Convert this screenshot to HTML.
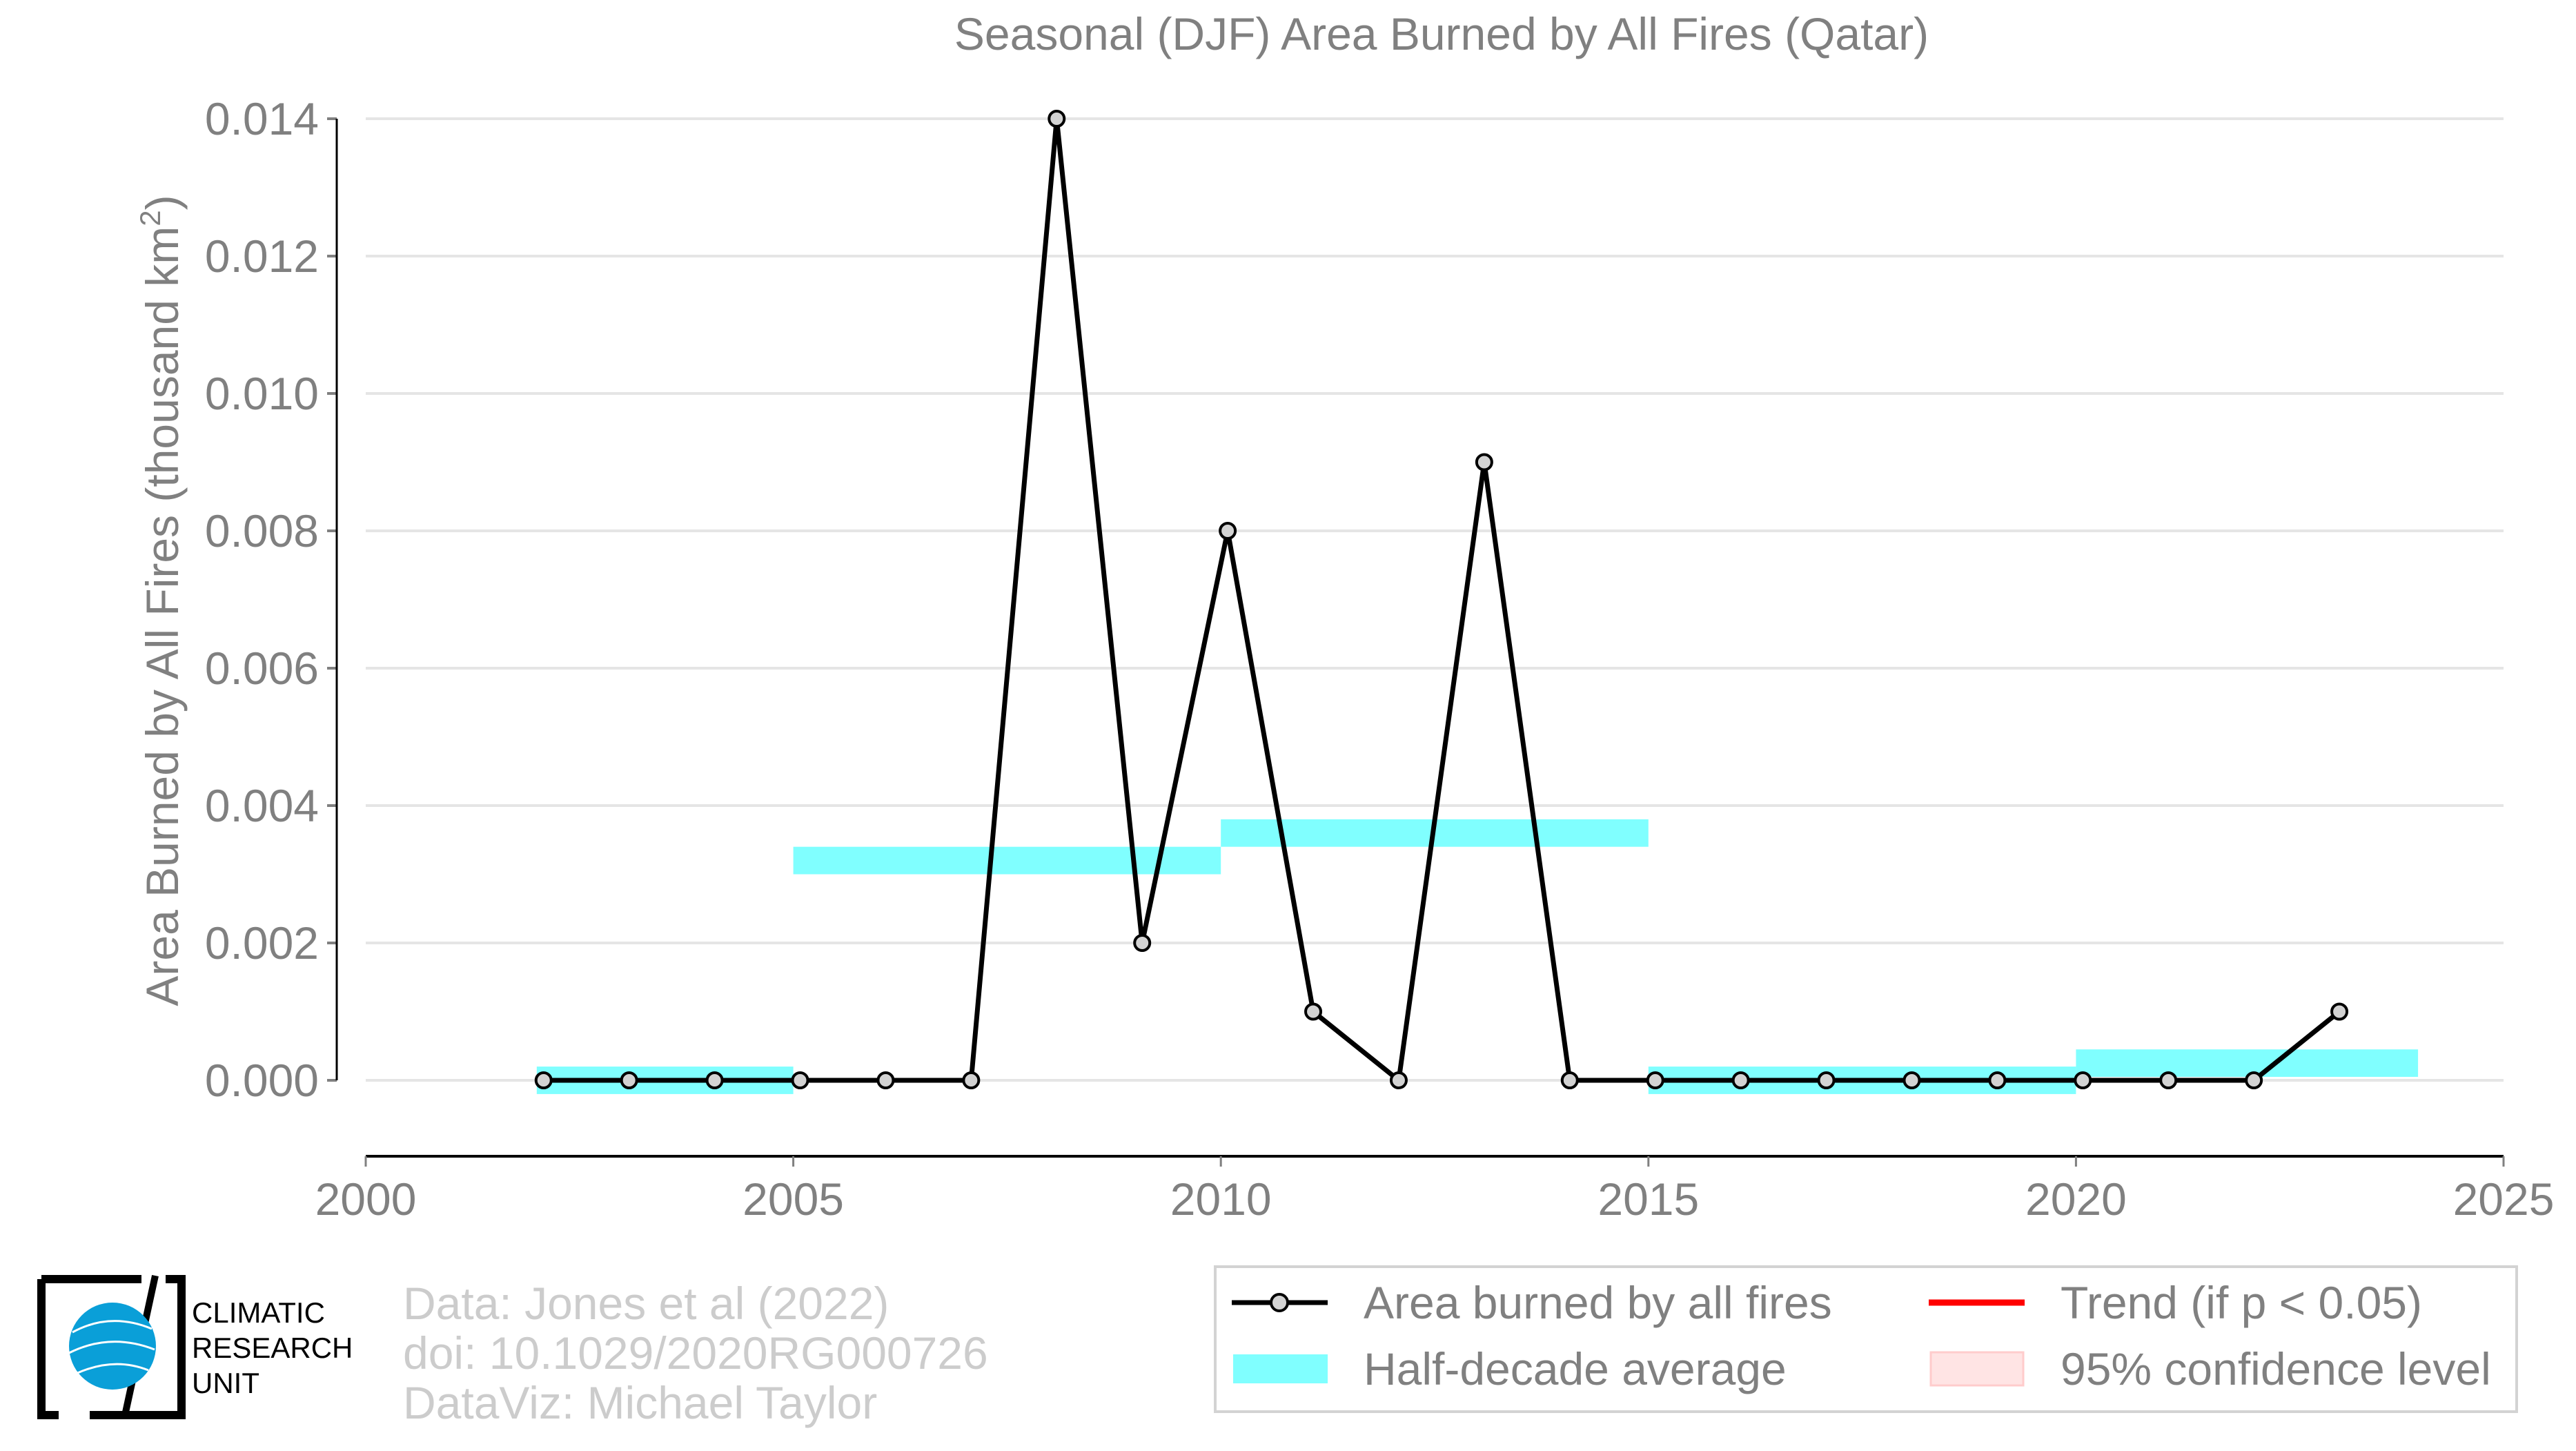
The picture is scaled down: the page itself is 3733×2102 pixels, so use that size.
<!DOCTYPE html>
<html><head><meta charset="utf-8"><style>
html,body{margin:0;padding:0;background:#fff;}
svg{display:block;font-family:"Liberation Sans",Arial,sans-serif;}
</style></head><body>
<svg id="chart" width="3733" height="2102" viewBox="0 0 3733 2102" xmlns="http://www.w3.org/2000/svg">
<text x="2089" y="72" text-anchor="middle" font-size="66" fill="#808080">Seasonal (DJF) Area Burned by All Fires (Qatar)</text>
<text transform="translate(258,870) rotate(-90)" text-anchor="middle" font-size="66" fill="#808080">Area Burned by All Fires (thousand km<tspan font-size="42" dy="-26">2</tspan><tspan dy="26">)</tspan></text>
<g id="grid"></g><g id="bars"></g><g id="series"></g><g id="axes"></g>
<g>
<path d="M60,1853 H205 M60,1853 V2050 H85 M130,2050 H263 V1853 H240" stroke="#000" stroke-width="12" fill="none"/>
<path d="M225,1848 L180,2055" stroke="#000" stroke-width="10"/>
<circle cx="163" cy="1950" r="63" fill="#0a9fd8"/>
<path d="M105,1930 Q160,1900 220,1925 M100,1960 Q160,1930 224,1955 M110,1990 Q165,1965 215,1985" stroke="#fff" stroke-width="3" fill="none"/>
<text x="278" y="1916" font-size="42" fill="#000">CLIMATIC</text>
<text x="278" y="1967" font-size="42" fill="#000">RESEARCH</text>
<text x="278" y="2018" font-size="42" fill="#000">UNIT</text>
</g>
<g font-size="66" fill="#cccccc">
<text x="584" y="1911">Data: Jones et al (2022)</text>
<text x="584" y="1983">doi: 10.1029/2020RG000726</text>
<text x="584" y="2055">DataViz: Michael Taylor</text>
</g>
<g transform="translate(-10,-8)">
<rect x="1771" y="1843" width="1886" height="210" fill="#fff" stroke="#d3d3d3" stroke-width="4"/>
<g>
<line x1="1795" y1="1895" x2="1934" y2="1895" stroke="#000" stroke-width="7"/>
<circle cx="1864" cy="1895" r="12" fill="#d3d3d3" stroke="#000" stroke-width="4"/>
<text x="1986" y="1918" font-size="66" fill="#808080">Area burned by all fires</text></g>
<g>
<line x1="2805" y1="1895" x2="2944" y2="1895" stroke="#ff0000" stroke-width="9"/>
<text x="2996" y="1918" font-size="66" fill="#808080">Trend (if p &lt; 0.05)</text></g>
<g>
<rect x="1797" y="1970" width="137" height="42" fill="#80ffff"/>
<text x="1986" y="2014" font-size="66" fill="#808080">Half-decade average</text></g>
<g>
<rect x="2808" y="1967" width="134" height="48" fill="#ffe4e4" stroke="#ffcccc" stroke-width="3"/>
<text x="2996" y="2014" font-size="66" fill="#808080">95% confidence level</text></g>
</g>
</svg>
<script>
const years=[2002,2003,2004,2005,2006,2007,2008,2009,2010,2011,2012,2013,2014,2015,2016,2017,2018,2019,2020,2021,2022,2023];
const values=[0,0,0,0,0,0,0.014,0.002,0.008,0.001,0,0.009,0,0,0,0,0,0,0,0,0,0.001];
const halfStart=[2002,2005,2010,2015,2020];
const halfEnd=[2005,2010,2015,2020,2024];
const halfValues=[0,0.0032,0.0036,0,0.00025];
const yTicks=[0,0.002,0.004,0.006,0.008,0.010,0.012,0.014];
const yTickLabels=["0.000","0.002","0.004","0.006","0.008","0.010","0.012","0.014"];
const xTicks=[2000,2005,2010,2015,2020,2025];
const NS="http://www.w3.org/2000/svg";
const X0=530,X1=3628,Y0=1565,Y1=172;
function sx(v){return X0+(v-2000)/25*(X1-X0);}
function sy(v){return Y0-v/0.014*(Y0-Y1);}
function mk(t,a,p){const e=document.createElementNS(NS,t);for(const k in a)e.setAttribute(k,a[k]);p.appendChild(e);return e;}
const grid=document.getElementById('grid'),axes=document.getElementById('axes'),bars=document.getElementById('bars'),series=document.getElementById('series');
yTicks.forEach((v,i)=>{
 const g=mk('line',{x1:X0,x2:X1,y1:sy(v),y2:sy(v),stroke:'#e5e5e5','stroke-width':4},grid);
 
 
 mk('line',{x1:474,x2:488,y1:sy(v),y2:sy(v),stroke:'#808080','stroke-width':4},axes);
 const t=mk('text',{x:462,y:sy(v)+23,'text-anchor':'end','font-size':66,fill:'#808080'},axes);
 t.textContent=yTickLabels[i];
 
 
});
const ya=mk('line',{x1:488,x2:488,y1:Y1,y2:Y0,stroke:'#000','stroke-width':3},axes);


const xa=mk('line',{x1:X0,x2:X1,y1:1675,y2:1675,stroke:'#000','stroke-width':4},axes);


xTicks.forEach(v=>{
 mk('line',{x1:sx(v),x2:sx(v),y1:1675,y2:1690,stroke:'#808080','stroke-width':3},axes);
 const t=mk('text',{x:sx(v),y:1760,'text-anchor':'middle','font-size':66,fill:'#808080'},axes);
 t.textContent=v;
 
 
});
halfValues.forEach((v,i)=>{
 const r=mk('rect',{x:sx(halfStart[i]),y:sy(v+0.0002),width:sx(halfEnd[i])-sx(halfStart[i]),height:sy(v-0.0002)-sy(v+0.0002),fill:'#80ffff'},bars);
 
 
});
const pts=years.map((y,i)=>sx(y+0.08)+','+sy(values[i])).join(' ');
const pl=mk('polyline',{points:pts,fill:'none',stroke:'#000','stroke-width':7,'stroke-linejoin':'round'},series);


years.forEach((y,i)=>{
 const c=mk('circle',{cx:sx(y+0.08),cy:sy(values[i]),r:11,fill:'#d3d3d3',stroke:'#000','stroke-width':4},series);
 
 
});
</script>
</body></html>
